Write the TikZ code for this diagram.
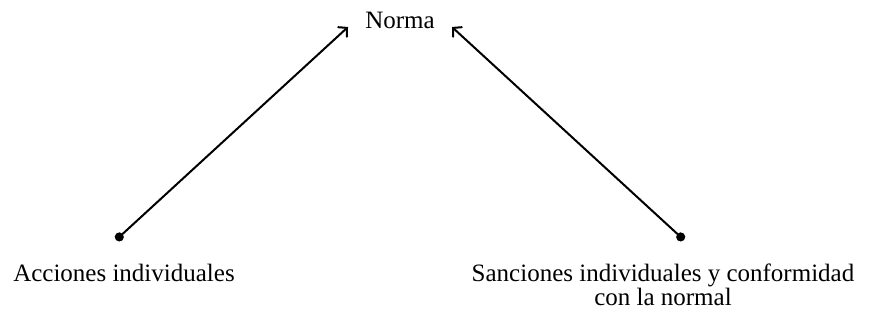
\documentclass[tikz,border=0pt]{standalone}
\usepackage{fontspec}
\setmainfont{Liberation Serif}
\usetikzlibrary{arrows.meta}
\begin{document}
\begin{tikzpicture}[x=1pt,y=-1pt,
  lbl/.style={font=\fontsize{25}{24}\selectfont, inner sep=0pt, align=center},
  conn/.style={line width=2pt, {Circle[length=9pt]}-{Straight Barb[length=6pt,width=13pt,line cap=round]}}]
\useasboundingbox (0,0) rectangle (871,323);
\node[lbl] (norma) at (400,20) {Norma};
\node[lbl] (acc) at (124,273) {Acciones individuales};
\node[lbl] (san) at (663,285) {Sanciones individuales y conformidad\\con la normal};
\coordinate (d1) at (116,240);
\coordinate (d2) at (684,240);
\coordinate (t1) at (348,27);
\coordinate (t2) at (452,27);
\draw[conn] (d1) -- (t1);
\draw[conn] (d2) -- (t2);
\end{tikzpicture}
\end{document}
